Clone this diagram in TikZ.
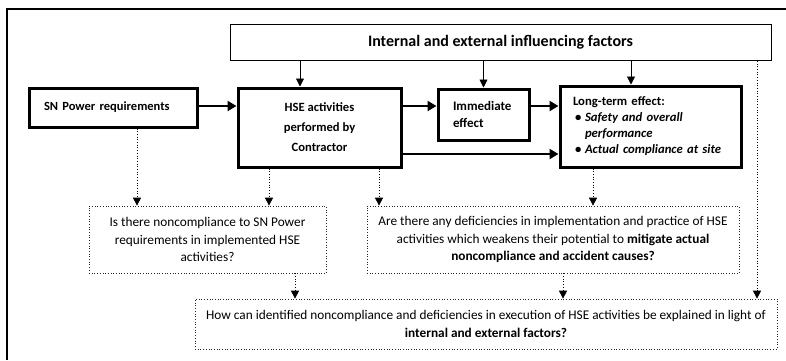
\documentclass[tikz,border=0pt]{standalone}
\usepackage{fontspec}
\setmainfont{Carlito}
\usetikzlibrary{arrows.meta}
\begin{document}
\begin{tikzpicture}[x=1pt,y=-1pt,
  thickbox/.style={draw, line width=3pt, inner sep=0pt},
  thinbox/.style={draw, line width=0.8pt, inner sep=0pt},
  dotbox/.style={draw=black!85, dotted, line width=0.7pt, inner sep=0pt},
  thickarr/.style={line width=2.6pt, -{Triangle[length=9pt,width=10pt]}},
  thinarr/.style={line width=0.8pt, -{Triangle[length=8pt,width=8pt]}},
  dotarr/.style={dotted, line width=0.7pt, -{Triangle[length=8pt,width=8pt]}},
  qtext/.style={font=\fontsize{13.3}{17.5}\selectfont},
  font=\fontsize{13}{15}\selectfont]
\useasboundingbox (0,0) rectangle (786,360);
% outer frame
\draw[line width=1.4pt] (7,360) -- (7,9) -- (786,9);
% main row
\node[thinbox, minimum width=541pt, minimum height=36pt,
  font=\bfseries\fontsize{16}{18}\selectfont] (top) at (500.5,42.5) {Internal and external influencing factors};
\node[thickbox, minimum width=168pt, minimum height=39pt, text width=138pt, inner xsep=15pt, align=left,
  font=\bfseries\fontsize{12.5}{14}\selectfont] (sn) at (113,107.5) {SN Power requirements};
\node[thickbox, minimum width=163pt, minimum height=79pt, align=center,
  font=\bfseries\fontsize{12.6}{20}\selectfont] (hse) at (319.5,127.5) {HSE activities\\performed by\\Contractor};
\node[thickbox, minimum width=91pt, minimum height=51pt, text width=61pt, inner xsep=15pt, align=left,
  font=\bfseries\fontsize{13}{17}\selectfont] (imm) at (483.5,114.5) {Immediate\\effect};
\node[thickbox, minimum width=181pt, minimum height=81pt, text width=155pt, inner xsep=13pt, align=left,
  font=\bfseries\fontsize{12.7}{16}\selectfont] (long) at (650.5,126.5)
  {Long-term effect:\\
   \hspace*{2pt}\makebox[10pt][l]{\textbullet}\textit{Safety and overall}\\
   \hspace*{12pt}\textit{performance}\\
   \hspace*{2pt}\makebox[10pt][l]{\textbullet}\textit{Actual compliance at site}};
% questions
\node[dotbox, qtext, minimum width=237pt, minimum height=67pt, align=center] (q1) at (207.5,239.5)
  {Is there noncompliance to SN Power\\requirements in implemented HSE\\activities?};
\node[dotbox, qtext, minimum width=372pt, minimum height=67pt, align=center] (q2) at (553,239.5)
  {Are there any deficiencies in implementation and practice of HSE\\activities which weakens their potential to \textbf{mitigate actual}\\\textbf{noncompliance and accident causes?}};
\node[dotbox, qtext, minimum width=582pt, minimum height=50pt, align=center] (q3) at (486,324)
  {How can identified noncompliance and deficiencies in execution of HSE activities be explained in light of\\\textbf{internal and external factors?}};
% rows for horizontal arrows
\coordinate (arow) at (0,106);
\coordinate (lrow) at (0,154);
\draw[thickarr] (sn.east |- arow) -- (hse.west |- arow);
\draw[thickarr] (hse.east |- arow) -- (imm.west |- arow);
\draw[thickarr] (imm.east |- arow) -- (long.west |- arow);
\draw[thickarr] (hse.east |- lrow) -- (long.west |- lrow);
% influencing factor arrows
\draw[thinarr] ([xshift=-19.5pt]hse.north |- top.south) -- ([xshift=-19.5pt]hse.north);
\draw[thinarr] (imm.north |- top.south) -- (imm.north);
\draw[thinarr] ([xshift=-19.5pt]long.north |- top.south) -- ([xshift=-19.5pt]long.north);
\draw[dotarr] ([xshift=271pt]q3.north |- top.south) -- ([xshift=271pt]q3.north);
% dotted arrows to questions
\draw[dotarr] ([xshift=24pt]sn.south) -- ([xshift=24pt]sn.south |- q1.north);
\draw[dotarr] ([xshift=-50.5pt]hse.south) -- ([xshift=-50.5pt]hse.south |- q1.north);
\draw[dotarr] ([xshift=59.5pt]hse.south) -- ([xshift=59.5pt]hse.south |- q2.north);
\draw[dotarr] ([xshift=-57.5pt]long.south) -- ([xshift=-57.5pt]long.south |- q2.north);
\draw[dotarr] ([xshift=87.5pt]q1.south) -- ([xshift=87.5pt]q1.south |- q3.north);
\draw[dotarr] ([xshift=10pt]q2.south) -- ([xshift=10pt]q2.south |- q3.north);
\end{tikzpicture}
\end{document}
